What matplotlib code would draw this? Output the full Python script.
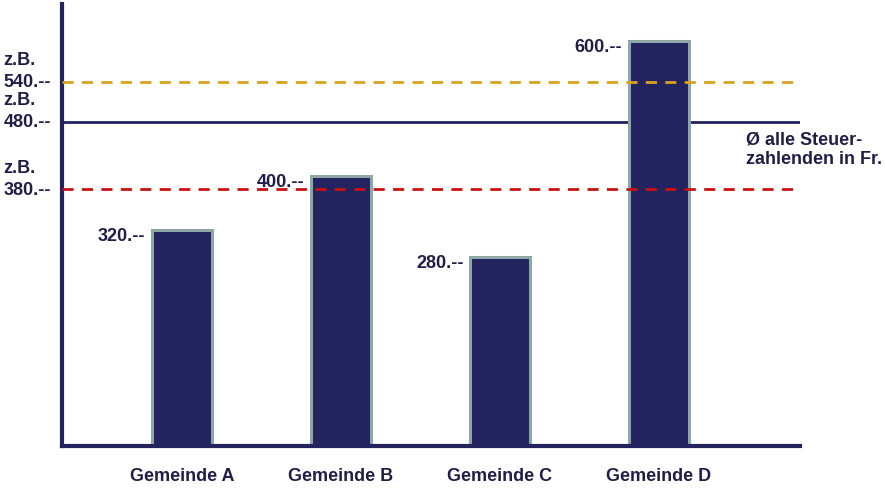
import matplotlib.pyplot as plt
from matplotlib.transforms import blended_transform_factory

# data
gemeinden = ["Gemeinde A", "Gemeinde B", "Gemeinde C", "Gemeinde D"]
steuern = [320, 400, 280, 600]
ref_values = [540, 480, 380]
ref_labels = ["540.--", "480.--", "380.--"]
avg_label = "Ø alle Steuer-\nzahlenden in Fr."

navy = "#23235f"
text_col = "#1e1e48"
line_colors = ["#d9a21a", navy, "#cc1111"]
line_styles = [(0, (4, 3)), "-", (0, (4, 3))]

plt.rcParams['font.family'] = ['Liberation Sans', 'DejaVu Sans']

fig = plt.figure(figsize=(8.85, 4.89), dpi=100)
ax = fig.add_axes([0.070, 0.086, 0.834, 0.904])

x = list(range(len(gemeinden)))
ax.bar(x, steuern, width=0.377, color=navy, edgecolor="#8fa6a6", linewidth=2.2, zorder=2)

ax.set_xlim(-0.755, 3.887)
ax.set_ylim(0, 655)

# reference lines
for v, c, ls in zip(ref_values, line_colors, line_styles):
    ax.axhline(v, color=c, linestyle=ls, linewidth=2, zorder=3 if ls != "-" else 1)

# y labels at the left
trans = blended_transform_factory(fig.transFigure, ax.transData)
for v, lab in zip(ref_values, ref_labels):
    ax.text(0.004, v, lab, transform=trans, ha="left", va="center",
            fontsize=13, fontweight="bold", color=text_col)
    ax.annotate("z.B.", xy=(0.004, v), xycoords=trans, xytext=(0, 16),
                textcoords="offset points", ha="left", va="center",
                fontsize=13, fontweight="bold", color=text_col)

# value labels left of bars
for xi, v in zip(x, steuern):
    ax.annotate(f"{v}.--", xy=(xi - 0.23, v), xytext=(0, -4),
                textcoords="offset points", ha="right", va="center",
                fontsize=13, fontweight="bold", color=text_col)

ax.annotate(avg_label, xy=(3.55, ref_values[1]), xytext=(0, -6),
            textcoords="offset points", ha="left", va="top",
            fontsize=13, fontweight="bold", color=text_col, linespacing=1.2,
            annotation_clip=False)

ax.set_xticks(x)
ax.set_xticklabels(gemeinden, fontsize=13, fontweight="bold", color=text_col)
ax.tick_params(axis="x", length=0, pad=15)
ax.set_yticks([])

for s in ["top", "right"]:
    ax.spines[s].set_visible(False)
for s in ["left", "bottom"]:
    ax.spines[s].set_color(navy)
    ax.spines[s].set_linewidth(3)

fig.savefig("out.png", dpi=100)
